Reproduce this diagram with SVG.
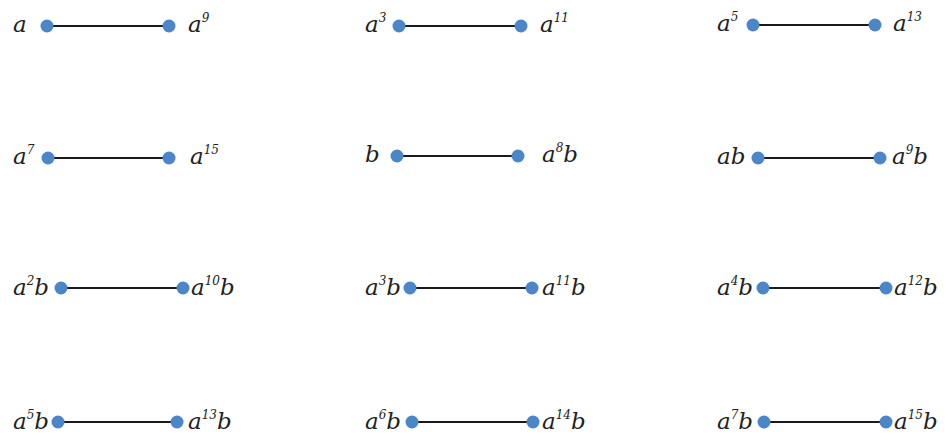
<svg xmlns="http://www.w3.org/2000/svg" width="949" height="434" viewBox="0 0 949 434">
<style>
.e{stroke:#1a1a1a;stroke-width:2;fill:none}
.d{fill:#4a86c8}
.t{font-family:"DejaVu Serif","Liberation Serif",serif;font-style:italic;font-size:23px;fill:#222}
.s{font-size:12px}
</style>
<rect width="949" height="434" fill="#fff"/>
<g id="connectors">
<line class="e" x1="47" y1="26" x2="169" y2="26"/>
<line class="e" x1="399" y1="26" x2="521" y2="26"/>
<line class="e" x1="753" y1="25" x2="875" y2="25"/>
<line class="e" x1="48" y1="158" x2="169" y2="158"/>
<line class="e" x1="397" y1="156" x2="518" y2="156"/>
<line class="e" x1="758" y1="158" x2="880" y2="158"/>
<line class="e" x1="61" y1="288" x2="183" y2="288"/>
<line class="e" x1="410" y1="288" x2="532" y2="288"/>
<line class="e" x1="763" y1="288" x2="886" y2="288"/>
<line class="e" x1="58" y1="422" x2="177" y2="422"/>
<line class="e" x1="412" y1="422" x2="533" y2="422"/>
<line class="e" x1="764" y1="422" x2="886" y2="422"/>
</g>
<g id="n1"><circle class="d" cx="47" cy="26" r="6.5"/><text class="t" x="13" y="32">a</text></g>
<g id="n2"><circle class="d" cx="169" cy="26" r="6.5"/><text class="t" x="188" y="32">a<tspan class="s" dy="-10">9</tspan></text></g>
<g id="n3"><circle class="d" cx="399" cy="26" r="6.5"/><text class="t" x="365" y="32">a<tspan class="s" dy="-10">3</tspan></text></g>
<g id="n4"><circle class="d" cx="521" cy="26" r="6.5"/><text class="t" x="540" y="32">a<tspan class="s" dy="-10">11</tspan></text></g>
<g id="n5"><circle class="d" cx="753" cy="25" r="6.5"/><text class="t" x="717" y="31">a<tspan class="s" dy="-10">5</tspan></text></g>
<g id="n6"><circle class="d" cx="875" cy="25" r="6.5"/><text class="t" x="893" y="31">a<tspan class="s" dy="-10">13</tspan></text></g>
<g id="n7"><circle class="d" cx="48" cy="158" r="6.5"/><text class="t" x="13" y="164">a<tspan class="s" dy="-10">7</tspan></text></g>
<g id="n8"><circle class="d" cx="169" cy="158" r="6.5"/><text class="t" x="190" y="164">a<tspan class="s" dy="-10">15</tspan></text></g>
<g id="n9"><circle class="d" cx="397" cy="156" r="6.5"/><text class="t" x="365" y="162">b</text></g>
<g id="n10"><circle class="d" cx="518" cy="156" r="6.5"/><text class="t" x="542" y="162">a<tspan class="s" dy="-10">8</tspan><tspan dy="10">b</tspan></text></g>
<g id="n11"><circle class="d" cx="758" cy="158" r="6.5"/><text class="t" x="717" y="164">ab</text></g>
<g id="n12"><circle class="d" cx="880" cy="158" r="6.5"/><text class="t" x="892" y="164">a<tspan class="s" dy="-10">9</tspan><tspan dy="10">b</tspan></text></g>
<g id="n13"><circle class="d" cx="61" cy="288" r="6.5"/><text class="t" x="13" y="295">a<tspan class="s" dy="-10">2</tspan><tspan dy="10">b</tspan></text></g>
<g id="n14"><circle class="d" cx="183" cy="288" r="6.5"/><text class="t" x="191" y="295">a<tspan class="s" dy="-10">10</tspan><tspan dy="10">b</tspan></text></g>
<g id="n15"><circle class="d" cx="410" cy="288" r="6.5"/><text class="t" x="365" y="295">a<tspan class="s" dy="-10">3</tspan><tspan dy="10">b</tspan></text></g>
<g id="n16"><circle class="d" cx="532" cy="288" r="6.5"/><text class="t" x="542" y="295">a<tspan class="s" dy="-10">11</tspan><tspan dy="10">b</tspan></text></g>
<g id="n17"><circle class="d" cx="763" cy="288" r="6.5"/><text class="t" x="717" y="295">a<tspan class="s" dy="-10">4</tspan><tspan dy="10">b</tspan></text></g>
<g id="n18"><circle class="d" cx="886" cy="288" r="6.5"/><text class="t" x="894" y="295">a<tspan class="s" dy="-10">12</tspan><tspan dy="10">b</tspan></text></g>
<g id="n19"><circle class="d" cx="58" cy="422" r="6.5"/><text class="t" x="13" y="429">a<tspan class="s" dy="-10">5</tspan><tspan dy="10">b</tspan></text></g>
<g id="n20"><circle class="d" cx="177" cy="422" r="6.5"/><text class="t" x="188" y="429">a<tspan class="s" dy="-10">13</tspan><tspan dy="10">b</tspan></text></g>
<g id="n21"><circle class="d" cx="412" cy="422" r="6.5"/><text class="t" x="365" y="429">a<tspan class="s" dy="-10">6</tspan><tspan dy="10">b</tspan></text></g>
<g id="n22"><circle class="d" cx="533" cy="422" r="6.5"/><text class="t" x="542" y="429">a<tspan class="s" dy="-10">14</tspan><tspan dy="10">b</tspan></text></g>
<g id="n23"><circle class="d" cx="764" cy="422" r="6.5"/><text class="t" x="717" y="429">a<tspan class="s" dy="-10">7</tspan><tspan dy="10">b</tspan></text></g>
<g id="n24"><circle class="d" cx="886" cy="422" r="6.5"/><text class="t" x="894" y="429">a<tspan class="s" dy="-10">15</tspan><tspan dy="10">b</tspan></text></g>
</svg>
